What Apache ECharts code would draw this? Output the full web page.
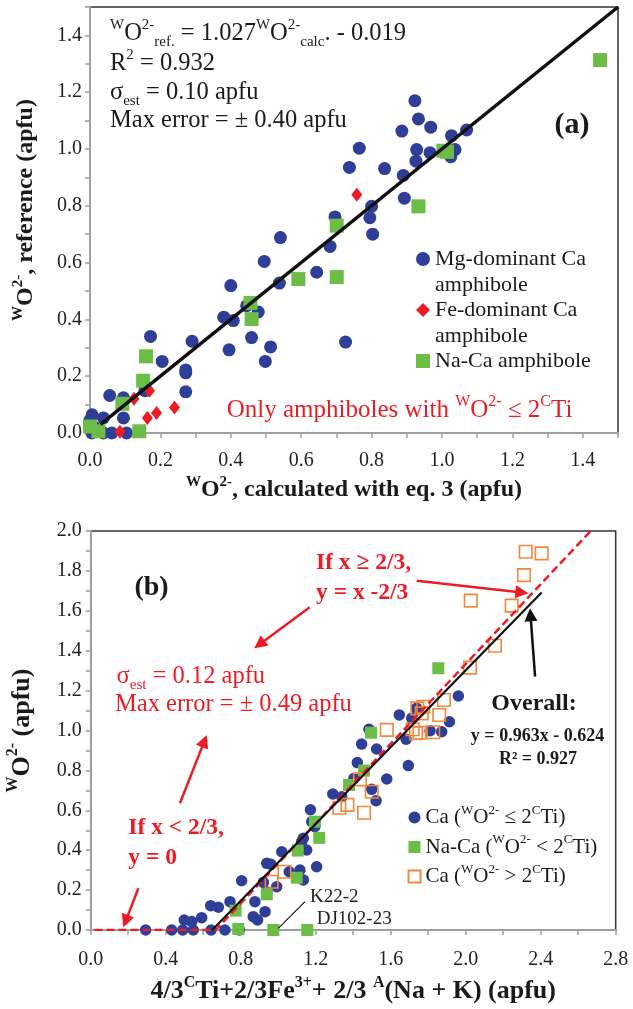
<!DOCTYPE html>
<html>
<head>
<meta charset="utf-8">
<script src="https://cdn.jsdelivr.net/npm/echarts@6/dist/echarts.min.js"></script>
<style>
html, body { margin: 0; padding: 0; background: #fff; }
#main { width: 633px; height: 1009px; }
</style>
</head>
<body>
<div id="main"></div>
<script>
// (a) reference vs calculated WO2-
var mgCaA = [
    [0.923, 1.170], [0.933, 1.106], [0.968, 1.077], [0.886, 1.063], [1.027, 1.047], [1.070, 1.067],
    [0.765, 1.003], [0.928, 0.998], [0.966, 0.987], [1.037, 0.998], [1.025, 0.973], [0.926, 0.957],
    [0.737, 0.935], [0.837, 0.931], [0.890, 0.907], [0.893, 0.827], [0.800, 0.798], [0.795, 0.758],
    [0.696, 0.761], [0.803, 0.700], [0.682, 0.657], [0.541, 0.688], [0.495, 0.604], [0.538, 0.528],
    [0.644, 0.566], [0.726, 0.320], [0.400, 0.519], [0.445, 0.448], [0.478, 0.426], [0.380, 0.408],
    [0.407, 0.396], [0.459, 0.336], [0.513, 0.303], [0.498, 0.252], [0.395, 0.293], [0.290, 0.323],
    [0.172, 0.340], [0.205, 0.252], [0.272, 0.222], [0.272, 0.212], [0.272, 0.145], [0.156, 0.149],
    [0.056, 0.132], [0.095, 0.124], [0.095, 0.053], [0.038, 0.053], [0.006, 0.064], [0.000, 0.045],
    [0.005, 0.000], [0.038, 0.000], [0.062, 0.000], [0.104, 0.000], [0.012, 0.020]
];
var feCaA = [[0.758, 0.839], [0.169, 0.149], [0.125, 0.121], [0.163, 0.053], [0.189, 0.070], [0.240, 0.090], [0.085, 0.004]];
var naCaA = [
    [1.449, 1.313], [1.004, 0.994], [1.014, 0.990], [0.933, 0.798], [0.701, 0.730], [0.701, 0.549],
    [0.592, 0.542], [0.456, 0.458], [0.459, 0.401], [0.159, 0.270], [0.151, 0.184], [0.092, 0.103],
    [0.000, 0.023], [0.024, 0.006], [0.140, 0.006]
];
var fitA = [[0.03, 0.03], [1.5, 1.5]];

// (b) WO2- against 4/3Ti + 2/3Fe3+ + 2/3(Na+K)
var caLowB = [
    [0.293, 0], [0.432, 0], [0.491, 0], [0.547, 0], [0.499, 0.050], [0.539, 0.042], [0.592, 0.062],
    [0.640, 0.122], [0.681, 0.114], [0.642, 0], [0.716, 0], [0.793, 0], [0.743, 0.142], [0.805, 0.247],
    [0.876, 0.142], [0.867, 0.067], [0.890, 0.050], [0.930, 0.092], [0.939, 0.192], [0.939, 0.334],
    [0.960, 0.330], [0.921, 0.239], [0.992, 0.217], [1.019, 0.392], [1.059, 0.292], [1.116, 0.301],
    [1.134, 0.251], [1.125, 0.443], [1.152, 0.401], [1.205, 0.317], [1.195, 0.518], [1.179, 0.543],
    [1.134, 0.460], [1.172, 0.603], [1.291, 0.682], [1.339, 0.668], [1.404, 0.760], [1.422, 0.839],
    [1.445, 0.932], [1.484, 1.006], [1.525, 0.907], [1.499, 0.705], [1.522, 0.648], [1.579, 0.757],
    [1.694, 0.824], [1.682, 0.956], [1.646, 1.078], [1.712, 1.061], [1.738, 1.111], [1.810, 0.999],
    [1.872, 0.994], [1.913, 1.044], [1.961, 1.173]
];
var naCaB = [
    [0.787, 0.005], [0.773, 0.097], [0.939, 0.179], [1.104, 0.398], [1.099, 0.262], [0.974, 0],
    [1.155, 0], [1.196, 0.543], [1.219, 0.462], [1.378, 0.727], [1.458, 0.799], [1.495, 0.989], [1.854, 1.312]
];
var caHighB = [
    [0.965, 0.242], [1.033, 0.292], [1.326, 0.613], [1.369, 0.627], [1.458, 0.588], [1.499, 0.693],
    [1.436, 0.755], [1.579, 1.003], [1.717, 1.006], [1.735, 0.986], [1.753, 0.989], [1.827, 0.991],
    [1.765, 1.086], [1.742, 1.111], [1.774, 1.119], [1.859, 1.078], [1.884, 1.153], [2.023, 1.315],
    [2.156, 1.425], [2.027, 1.651], [2.245, 1.626], [2.311, 1.779], [2.320, 1.896], [2.405, 1.888]
];
var modelB = [[0.02, 0], [0.6667, 0], [2.6667, 2.0]];
var overallB = [[0.648, 0], [2.405, 1.692]];

// axis ranges: [min, max, tick step, label every n ticks]
var xAxisA = [0, 1.5, 0.1, 2];
var yAxisA = [0, 1.5, 0.1, 2];
var xAxisB = [0, 2.8, 0.2, 2];
var yAxisB = [0, 2.0, 0.1, 2];

// arrows in (b), data units
var arrowsB = [
    {from: [1.739, 1.751], to: [2.334, 1.688], color: '#ed1c24'},
    {from: [1.168, 1.618], to: [0.872, 1.412], color: '#ed1c24'},
    {from: [0.476, 0.635], to: [0.619, 0.977], color: '#ed1c24'},
    {from: [0.254, 0.209], to: [0.174, 0.0135], color: '#ed1c24'},
    {from: [2.370, 1.270], to: [2.343, 1.613], color: '#111111'}
];
var leaderB = [[1.0, 0.0085], [1.143, 0.142]];

var FONT = 'Liberation Serif';
var RED = '#ed1c24';
var TXT = '#1a1a1a';
var BLUE = '#2f3f97';
var GREEN = '#6cbd45';
var ORANGE = '#f0883e';

function richSet(size, color, bold) {
    var w = bold ? 'bold' : 'normal';
    var small = Math.round(size * 0.62);
    function st(fs, lh, va) {
        return {fontSize: fs, fontFamily: FONT, fontWeight: w, color: color, fill: color, lineHeight: lh, verticalAlign: va};
    }
    return {
        n: st(size, Math.round(size * 1.3), 'middle'),
        s: st(small, Math.round(size * 0.7), 'top'),
        b: st(small, Math.round(size * 0.78), 'bottom')
    };
}

function note(x, y, str, size, color, bold, align) {
    return {
        type: 'text', x: x, y: y, z: 20,
        style: {
            text: str, rich: richSet(size, color, bold), align: align || 'left', verticalAlign: 'middle',
            fontSize: size, fontFamily: FONT, fontWeight: bold ? 'bold' : 'normal', fill: color
        }
    };
}

function valueAxis(gridIndex, ax, name, nameSize, nameGap, margin, namePad) {
    var step = ax[2], every = ax[3];
    return {
        type: 'value', gridIndex: gridIndex, min: ax[0], max: ax[1], interval: step,
        name: name, nameLocation: 'middle', nameGap: nameGap,
        nameTextStyle: {rich: richSet(nameSize, TXT, true), padding: namePad || 0},
        axisLine: {show: true, onZero: false, lineStyle: {color: '#a0a0a0', width: 2}},
        axisTick: {show: true, inside: false, length: 5, lineStyle: {color: '#a0a0a0', width: 1.5}},
        splitLine: {show: false},
        axisLabel: {
            margin: margin, fontSize: 20, fontFamily: FONT, color: '#222',
            formatter: function (v) {
                return Math.round(v / step) % every === 0 ? v.toFixed(1) : '';
            }
        }
    };
}

var legendNamesB = {
    'Ca (WO2- <= 2CTi)': '{n|Ca (}{s|W}{n|O}{s|2-}{n| ≤ 2}{s|C}{n|Ti)}',
    'Na-Ca (WO2- < 2CTi)': '{n|Na-Ca (}{s|W}{n|O}{s|2-}{n| < 2}{s|C}{n|Ti)}',
    'Ca (WO2- > 2CTi)': '{n|Ca (}{s|W}{n|O}{s|2-}{n| > 2}{s|C}{n|Ti)}'
};
var legendNamesA = {
    'Mg-dominant Ca amphibole': 'Mg-dominant Ca',
    'Fe-dominant Ca amphibole': 'Fe-dominant Ca',
    'Na-Ca amphibole': 'Na-Ca amphibole'
};

// pull the arrow tip back so the triangle ends on the point
var sxB = 525 / (xAxisB[1] - xAxisB[0]);
var syB = 399 / (yAxisB[1] - yAxisB[0]);
function arrowData(a) {
    var dx = (a.to[0] - a.from[0]) * sxB, dy = (a.to[1] - a.from[1]) * syB;
    var len = Math.sqrt(dx * dx + dy * dy);
    var back = 6.5 / len;
    var end = [a.to[0] - (a.to[0] - a.from[0]) * back, a.to[1] - (a.to[1] - a.from[1]) * back];
    var ls = {color: a.color, width: 2.5, type: 'solid'};
    return [
        {coord: a.from, symbol: 'none', lineStyle: ls},
        {coord: end, symbol: 'triangle', symbolSize: 13, lineStyle: ls, itemStyle: {color: a.color}}
    ];
}
var markData = arrowsB.map(arrowData);
markData.push([
    {coord: leaderB[0], symbol: 'none', lineStyle: {color: '#111', width: 1.2, type: 'solid'}},
    {coord: leaderB[1], symbol: 'none', lineStyle: {color: '#111', width: 1.2, type: 'solid'}}
]);

var chart = echarts.init(document.getElementById('main'));

var option = {
    animation: false,
    backgroundColor: '#fff',
    textStyle: {fontFamily: FONT},
    grid: [
        {left: 90, top: 7, width: 528, height: 426, show: true, borderColor: '#333', borderWidth: 1.5,
            backgroundColor: 'transparent', containLabel: false, outerBoundsMode: 'none'},
        {left: 90.7, top: 531, width: 525, height: 399, show: true, borderColor: '#333', borderWidth: 1.5,
            backgroundColor: 'transparent', containLabel: false, outerBoundsMode: 'none'}
    ],
    xAxis: [
        valueAxis(0, xAxisA, '{s|W}{n|O}{s|2-}{n|, calculated with eq. 3 (apfu)}', 24, 41.5, 18),
        valueAxis(1, xAxisB, '{n|4/3}{s|C}{n|Ti+2/3Fe}{s|3+}{n|+ 2/3 }{s|A}{n|(Na + K) (apfu)}', 26, 44.7, 20)
    ],
    yAxis: [
        valueAxis(0, yAxisA, '{s|W}{n|O}{s|2-}{n|, reference (apfu)}', 24, 48.5, 8, [0, 0, 0, 20]),
        valueAxis(1, yAxisB, '{s|W}{n|O}{s|2-}{n| (apfu)}', 26, 51.7, 9)
    ],
    legend: [
        {
            data: ['Mg-dominant Ca amphibole', 'Fe-dominant Ca amphibole', 'Na-Ca amphibole'],
            orient: 'vertical', left: 411, top: 243, itemWidth: 14, itemHeight: 14, itemGap: 29,
            selectedMode: false,
            formatter: function (name) { return legendNamesA[name]; },
            textStyle: {fontSize: 22, fontFamily: FONT, color: TXT, lineHeight: 22}
        },
        {
            data: ['Ca (WO2- <= 2CTi)', 'Na-Ca (WO2- < 2CTi)', 'Ca (WO2- > 2CTi)'],
            orient: 'vertical', left: 402.5, top: 799, itemWidth: 12, itemHeight: 12, itemGap: 5.5,
            selectedMode: false,
            formatter: function (name) { return legendNamesB[name]; },
            textStyle: {rich: richSet(21, TXT, false)}
        }
    ],
    series: [
        {name: 'Mg-dominant Ca amphibole', type: 'scatter', xAxisIndex: 0, yAxisIndex: 0,
            symbol: 'circle', symbolSize: 13, itemStyle: {color: BLUE, opacity: 1}, data: mgCaA},
        {name: 'Fe-dominant Ca amphibole', type: 'scatter', xAxisIndex: 0, yAxisIndex: 0,
            symbol: 'diamond', symbolSize: [11, 14], itemStyle: {color: RED, opacity: 1}, data: feCaA},
        {name: 'Na-Ca amphibole', type: 'scatter', xAxisIndex: 0, yAxisIndex: 0,
            symbol: 'rect', symbolSize: 14, itemStyle: {color: GREEN, opacity: 1}, data: naCaA},
        {name: 'fitA', type: 'line', xAxisIndex: 0, yAxisIndex: 0, z: 5, silent: true,
            symbol: 'none', lineStyle: {color: '#111', width: 3.5}, data: fitA},

        {name: 'Ca (WO2- <= 2CTi)', type: 'scatter', xAxisIndex: 1, yAxisIndex: 1,
            symbol: 'circle', symbolSize: 11.5, itemStyle: {color: BLUE, opacity: 1}, data: caLowB},
        {name: 'Na-Ca (WO2- < 2CTi)', type: 'scatter', xAxisIndex: 1, yAxisIndex: 1,
            symbol: 'rect', symbolSize: 12, itemStyle: {color: GREEN, opacity: 1}, data: naCaB},
        {name: 'Ca (WO2- > 2CTi)', type: 'scatter', xAxisIndex: 1, yAxisIndex: 1,
            symbol: 'rect', symbolSize: 12.5,
            itemStyle: {color: 'rgba(255,255,255,0)', borderColor: ORANGE, borderWidth: 1.6, opacity: 1},
            data: caHighB},
        {name: 'modelB', type: 'line', xAxisIndex: 1, yAxisIndex: 1, z: 5, silent: true,
            symbol: 'none', lineStyle: {color: RED, width: 2.5, type: [8, 4]}, data: modelB},
        {name: 'overallB', type: 'line', xAxisIndex: 1, yAxisIndex: 1, z: 6, silent: true,
            symbol: 'none', lineStyle: {color: '#111', width: 2.2}, data: overallB,
            markLine: {silent: true, animation: false, label: {show: false},
                symbol: ['none', 'triangle'], symbolSize: 13, data: markData}}
    ],
    graphic: [
        note(110, 33.5, '{s|W}{n|O}{s|2-}{b|ref.}{n| = 1.027}{s|W}{n|O}{s|2-}{b|calc}{n|. - 0.019}', 24.5, TXT),
        note(110, 63.5, '{n|R}{s|2}{n| = 0.932}', 24.5, TXT),
        note(110, 92.5, '{n|σ}{b|est}{n| = 0.10 apfu}', 24.5, TXT),
        note(110, 121, '{n|Max error = ± 0.40 apfu}', 24.5, TXT),
        note(572, 125, '{n|(a)}', 30, TXT, true, 'center'),
        note(435, 285, '{n|amphibole}', 22, TXT),
        note(435, 336.7, '{n|amphibole}', 22, TXT),
        note(226.7, 410, '{n|Only amphiboles with }{s|W}{n|O}{s|2-}{n| ≤ 2}{s|C}{n|Ti}', 25, RED),

        note(151.5, 588, '{n|(b)}', 28, TXT, true, 'center'),
        note(316, 563.3, '{n|If x ≥ 2/3,}', 23.5, RED, true),
        note(316, 593, '{n|y = x -2/3}', 23.5, RED, true),
        note(116.6, 676.7, '{n|σ}{b|est}{n| = 0.12 apfu}', 24.5, RED),
        note(115, 705, '{n|Max error = ± 0.49 apfu}', 24.5, RED),
        note(128.3, 828.3, '{n|If x < 2/3,}', 23.5, RED, true),
        note(128.3, 858.3, '{n|y = 0}', 23.5, RED, true),
        note(534, 703.3, '{n|Overall:}', 24, TXT, true, 'center'),
        note(537.5, 736.7, '{n|y = 0.963x - 0.624}', 18, TXT, true, 'center'),
        note(538, 759.3, '{n|R² = 0.927}', 18, TXT, true, 'center'),
        note(310, 896.7, '{n|K22-2}', 19, '#222'),
        note(316.7, 919.3, '{n|DJ102-23}', 19, '#222')
    ]
};

chart.setOption(option);
</script>
</body>
</html>
